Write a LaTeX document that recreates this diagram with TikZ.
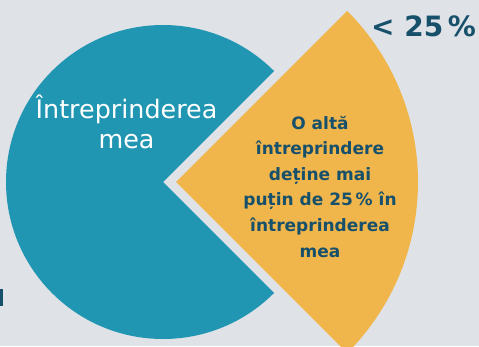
\documentclass[tikz,border=0pt]{standalone}
\usepackage{fontspec}
\setmainfont{DejaVu Sans}
\usepackage{tikz}
\definecolor{bggray}{RGB}{223,226,231}
\definecolor{pieblue}{RGB}{33,150,178}
\definecolor{pieorange}{RGB}{240,182,76}
\definecolor{darkblue}{RGB}{23,80,107}
\def\sector[#1](#2)(#3:#4:#5)% Syntax: [fill options] (vertex) (initial angle:final angle:radius)
{ \fill[#1] (#2) -- ++(#3:#5) arc (#3:#4:#5) -- cycle; }

\begin{document}
\begin{tikzpicture}[x=1pt,y=1pt]
	\fill[bggray] (0,0) rectangle (479,346);
	\useasboundingbox (0,0) rectangle (479,346);

	%SECTORS
	\sector[pieblue](163,164)(45:315:157)		%my enterprise
	\sector[pieorange](176,164)(-45:45:242)	%other enterprise
	\fill[darkblue] (0,40) rectangle (3,57);	%cut text at left

	%LABELS
	\node[text=white,align=center,inner sep=0pt,font=\fontsize{25.4}{30}\selectfont] (mine) at (126.5,224.5)
		{Întreprinderea\\mea};
	\node[text=darkblue,align=center,inner sep=0pt,font=\bfseries\fontsize{17}{25.6}\selectfont] (other) at (320,159.5)
		{O altă\\întreprindere\\deține mai\\puțin de 25\,\% în\\întreprinderea\\mea};
	\node[text=darkblue,anchor=base,inner sep=0pt,font=\bfseries\fontsize{28}{30}\selectfont] (share) at (423.5,309.3)
		{<~25\,\%};
\end{tikzpicture}
\end{document}
